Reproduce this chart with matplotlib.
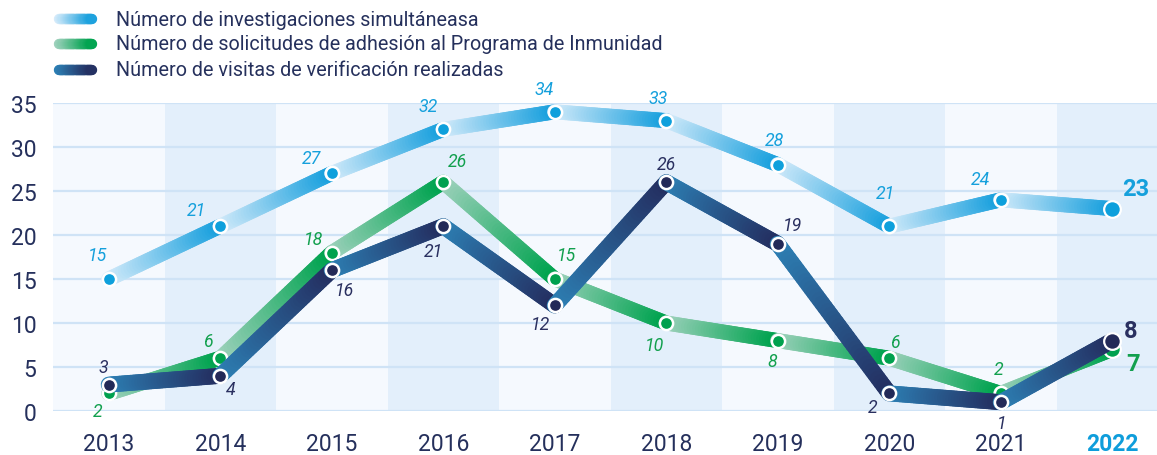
import numpy as np
import matplotlib
matplotlib.use("Agg")
import matplotlib.pyplot as plt
from matplotlib.collections import LineCollection
from matplotlib.colors import to_rgb

plt.rcParams['font.family'] = ['Roboto', 'DejaVu Sans']

# ---------------- data ----------------
years = [2013, 2014, 2015, 2016, 2017, 2018, 2019, 2020, 2021, 2022]
investigaciones = [15, 21, 27, 32, 34, 33, 28, 21, 24, 23]
solicitudes = [2, 6, 18, 26, 15, 10, 8, 6, 2, 7]
visitas = [3, 4, 16, 21, 12, 26, 19, 2, 1, 8]
series_names = [
    "Número de investigaciones simultáneasa",
    "Número de solicitudes de adhesión al Programa de Inmunidad",
    "Número de visitas de verificación realizadas",
]
yticks = [0, 5, 10, 15, 20, 25, 30, 35]

# ---------------- style ----------------
NAVY_TXT = "#25305c"
styles = [
    dict(c0="#d9edfb", c1="#1ba1de", mk="#0ea0dc", lab="#15a0dc", lw=10.8, z=3),
    dict(c0="#a3d3c0", c1="#00a34f", mk="#00a14e", lab="#12a04e", lw=10.8, z=5),
    dict(c0="#2d82b7", c1="#243062", mk="#232a58", lab="#2a3060", lw=11.5, z=7),
]
# label offsets in pixels (dx, dy) for each point
offsets = [
    [(-11, 24), (-24, 16), (-20, 15), (-15, 23), (-11, 23), (-8, 23), (-3, 25), (-4, 33), (-20, 21), None],
    [(-11, -18), (-12, 17), (-18, 14), (14, 21), (12, 24), (-12, -22), (-5, -20), (6, 16), (-2, 24), None],
    [(-5, 18), (11, -13), (13, -20), (-10, -25), (-14, -19), (0, 18), (15, 19), (-17, -14), (1, -21), None],
]
end_offsets = [(10, 20), (14, -14), (12, 10)]

W, H = 1157, 456
fig = plt.figure(figsize=(W / 100, H / 100), dpi=100)
fig.patch.set_facecolor("white")

ax_left, ax_bottom = 53 / W, 44 / H
ax = fig.add_axes([ax_left, ax_bottom, 1115 / W, 308 / H])
ax.set_xlim(years[0] - 0.5, years[-1] + 0.5)
ax.set_ylim(0, 35)
for s in ax.spines.values():
    s.set_visible(False)

# background columns
for i, yr in enumerate(years):
    ax.axvspan(yr - 0.5, yr + 0.5, color="#f5f9fe" if i % 2 == 0 else "#e3effb",
               zorder=0, lw=0)
# grid lines
for t in yticks:
    ax.axhline(t, color="#cfe3f6", lw=1.6, zorder=1)

ax.set_yticks(yticks)
ax.set_yticklabels([str(t) for t in yticks], fontsize=16.5, color=NAVY_TXT)
ax.set_xticks(years)
ax.set_xticklabels([str(y) for y in years], fontsize=16.5, color=NAVY_TXT)
ax.tick_params(axis='y', length=0, pad=12)
ax.tick_params(axis='x', length=0, pad=15)
last = ax.get_xticklabels()[-1]
last.set_fontweight("bold")
last.set_color("#0e9ddb")


def grad_segment(axis, x0, y0, x1, y1, c0, c1, lw, z, n=40):
    t = np.linspace(0, 1, n + 1)
    xs = x0 + (x1 - x0) * t
    ys = y0 + (y1 - y0) * t
    segs = [[(xs[k], ys[k]), (xs[k + 1], ys[k + 1])] for k in range(n)]
    a, b = np.array(to_rgb(c0)), np.array(to_rgb(c1))
    cols = [tuple(a + (b - a) * ((k + 0.5) / n)) for k in range(n)]
    lc = LineCollection(segs, colors=cols, linewidths=lw, capstyle='round',
                        joinstyle='round', zorder=z)
    lc.set_clip_on(False)
    axis.add_collection(lc)


all_series = [investigaciones, solicitudes, visitas]
for si, (vals, st) in enumerate(zip(all_series, styles)):
    for i in range(len(years) - 1):
        grad_segment(ax, years[i], vals[i], years[i + 1], vals[i + 1],
                     st["c0"], st["c1"], st["lw"], st["z"])
    ax.plot(years[:-1], vals[:-1], ls='none', marker='o', ms=9.5,
            mfc=st["mk"], mec="white", mew=1.8, zorder=st["z"] + 0.5, clip_on=False)
    ax.plot(years[-1:], vals[-1:], ls='none', marker='o', ms=12,
            mfc=st["mk"], mec="white", mew=1.6, zorder=st["z"] + 0.5, clip_on=False)
    for i, v in enumerate(vals[:-1]):
        dx, dy = offsets[si][i]
        ax.annotate(str(v), (years[i], v), xytext=(dx * 0.72, dy * 0.72),
                    textcoords='offset points', ha='center', va='center',
                    fontsize=12.8, style='italic', color=st["lab"], zorder=10,
                    annotation_clip=False)
    dx, dy = end_offsets[si]
    ax.annotate(str(vals[-1]), (years[-1], vals[-1]), xytext=(dx * 0.72, dy * 0.72),
                textcoords='offset points', ha='left', va='center',
                fontsize=17, fontweight='bold', color=st["lab"], zorder=10,
                annotation_clip=False)

# legend (custom gradient handles)
lax = fig.add_axes([0, 0, 1, 1], zorder=20)
lax.set_xlim(0, W)
lax.set_ylim(H, 0)
lax.axis('off')
lax.patch.set_alpha(0)
leg_y = [20, 45, 71]
for name, st, yy in zip(series_names, styles, leg_y):
    grad_segment(lax, 59, yy, 92, yy, st["c0"], st["c1"], 7.5, 21, n=30)
    lax.text(116, yy, name, fontsize=14.2, color=NAVY_TXT, va='center', ha='left')

fig.savefig("out.png", dpi=100)
